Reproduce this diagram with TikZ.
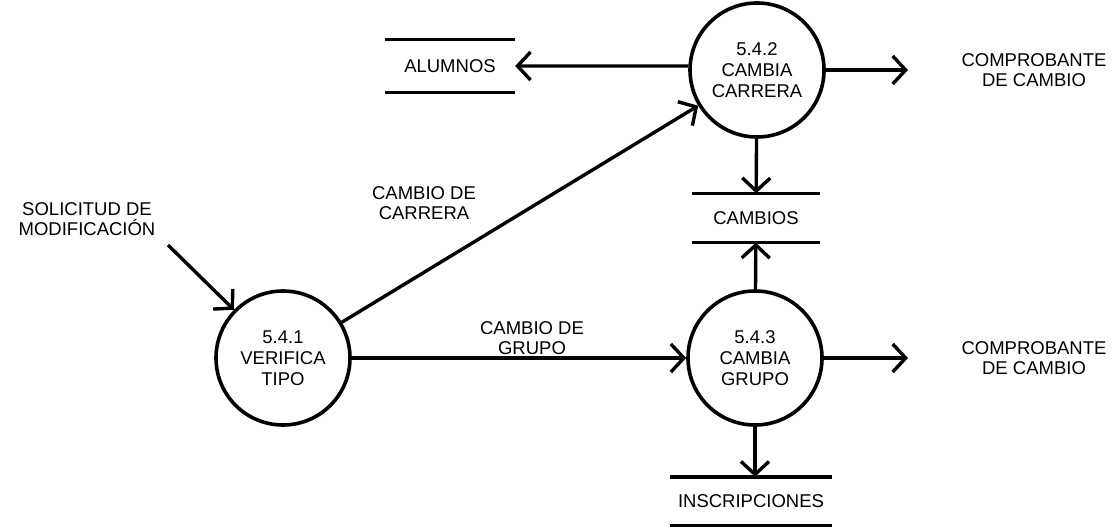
\documentclass[tikz,border=0pt]{standalone}
\usepackage{fontspec}
\setmainfont{Liberation Sans}
\usetikzlibrary{arrows.meta}
\begin{document}
\begin{tikzpicture}[x=1pt, y=-1pt,
    proc/.style={circle, draw, line width=3.6pt, minimum size=134pt, inner sep=0pt,
      align=center, font=\fontsize{18.5}{21}\selectfont},
    store/.style={inner sep=0pt, font=\fontsize{18.5}{21}\selectfont},
    lbl/.style={inner sep=0pt, align=center, font=\fontsize{18.5}{20}\selectfont},
    flow/.style={line width=3.4pt, -{Straight Barb[length=13pt, width=28pt, line width=3.4pt]}}]
  \useasboundingbox (0,0) rectangle (1115,527);
  % Processes
  \node[proc] (p1) at (283,358) {5.4.1\\VERIFICA\\TIPO};
  \node[proc] (p2) at (757,70)  {5.4.2\\CAMBIA\\CARRERA};
  \node[proc] (p3) at (755,358) {5.4.3\\CAMBIA\\GRUPO};
  % Data stores
  \node[store, minimum width=130pt, minimum height=52pt] (alumnos) at (450,66) {ALUMNOS};
  \node[store, minimum width=127pt, minimum height=49pt] (cambios) at (756,218) {CAMBIOS};
  \node[store, minimum width=162pt, minimum height=48pt] (inscr) at (751,501) {INSCRIPCIONES};
  \foreach \s in {alumnos, cambios, inscr}
    \draw[line width=3.4pt] (\s.north west) -- (\s.north east) (\s.south west) -- (\s.south east);
  % External entities
  \node[lbl] (sol) at (87,219) {SOLICITUD DE\\MODIFICACIÓN};
  \node[lbl] (comp1) at (1034,70) {COMPROBANTE\\DE CAMBIO};
  \node[lbl] (comp2) at (1034,358) {COMPROBANTE\\DE CAMBIO};
  \coordinate (solend) at (168,245);
  \coordinate (out1) at (908,70);
  \coordinate (out2) at (908,358);
  % Flow labels
  \node[lbl] (carrera) at (424,203) {CAMBIO DE\\CARRERA};
  \node[lbl] (grupo) at (532,338) {CAMBIO DE\\GRUPO};
  % Flows
  \draw[flow] (solend) -- (p1);
  \draw[flow] (p1) -- (p2);
  \draw[flow] (p1) -- (p3);
  \draw[flow] (p2) -- (p2.west |- alumnos.east) -- (alumnos.east);
  \draw[flow] (p2) -- (cambios);
  \draw[flow] (p3) -- (cambios);
  \draw[flow] (p3.south) -- (p3.south |- inscr.north);
  \draw[flow] (p2) -- (out1);
  \draw[flow] (p3) -- (out2);
\end{tikzpicture}
\end{document}
